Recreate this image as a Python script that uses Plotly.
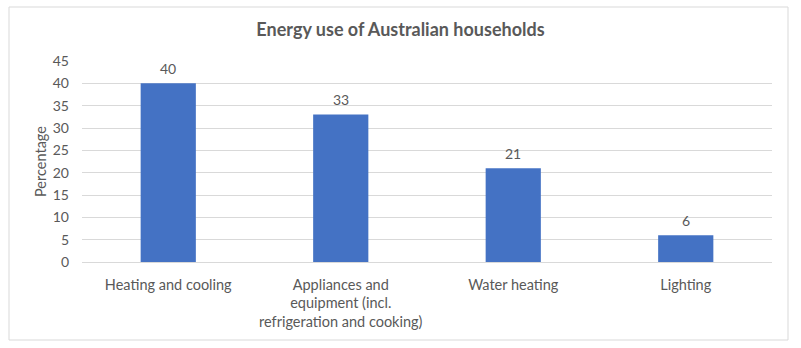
import plotly.graph_objects as go

categories = [
    "Heating and cooling",
    "Appliances and<br>equipment (incl.<br>refrigeration and cooking)",
    "Water heating",
    "Lighting",
]
values = [40, 33, 21, 6]
y_ticks = [0, 5, 10, 15, 20, 25, 30, 35, 40, 45]

W, H = 801, 348
L, R, T, B = 82, 29, 61, 86
pw, ph = W - L - R, H - T - B

text_col = "#595959"
font_family = "Lato, 'Open Sans', sans-serif"

fig = go.Figure(
    go.Bar(
        x=categories,
        y=values,
        marker=dict(color="#4472C4", line=dict(width=0)),
        hoverinfo="x+y",
    )
)

# value labels above each bar
for c, v in zip(categories, values):
    fig.add_annotation(
        x=c, y=v, text=str(v), showarrow=False,
        yanchor="middle", yshift=15,
        font=dict(size=14, color=text_col, family=font_family),
    )

# outer chart border
bx0, bx1, by0, by1 = 9, 788, 7, 340
fig.add_shape(
    type="rect", xref="paper", yref="paper",
    x0=(bx0 - L) / pw, x1=(bx1 - L) / pw,
    y0=(H - B - by1) / ph, y1=(H - B - by0) / ph,
    line=dict(color="#D9D9D9", width=1), fillcolor="rgba(0,0,0,0)", layer="below",
)

fig.update_layout(
    width=W, height=H,
    margin=dict(l=L, r=R, t=T, b=B),
    paper_bgcolor="white", plot_bgcolor="white",
    bargap=0.68,
    showlegend=False,
    title=dict(
        text="<b>Energy use of Australian households</b>",
        x=0.5, xanchor="center", y=1 - 30 / H, yanchor="middle",
        font=dict(size=18, color=text_col, family=font_family),
    ),
    font=dict(family=font_family, color=text_col, size=14),
)
fig.update_yaxes(
    range=[0, 45], tickvals=y_ticks, showgrid=True, gridcolor="#D9D9D9", gridwidth=1,
    zeroline=True, zerolinecolor="#D9D9D9", zerolinewidth=1,
    showline=False, ticks="", ticklabelstandoff=12,
    tickfont=dict(size=14, color=text_col, family=font_family),
    title=dict(text="Percentage", standoff=2, font=dict(size=14.5, color=text_col, family=font_family)),
)
fig.update_xaxes(
    showline=False, ticks="", showgrid=False, ticklabelstandoff=12,
    tickfont=dict(size=14.5, color=text_col, family=font_family),
)

fig.write_html("out.html")
